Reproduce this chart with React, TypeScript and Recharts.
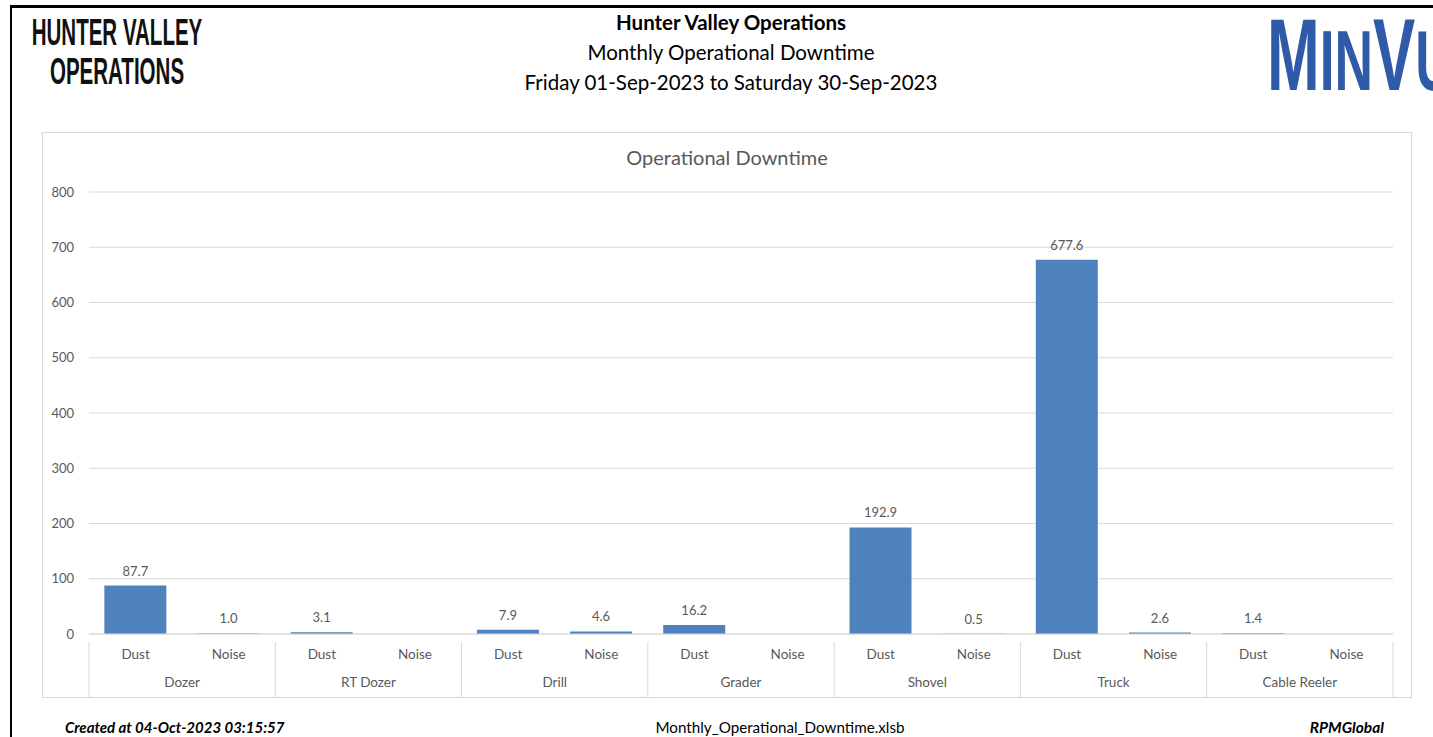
import React from 'react';
import { BarChart, Bar, XAxis, YAxis, CartesianGrid, LabelList } from 'recharts';

const groups = ['Dozer', 'RT Dozer', 'Drill', 'Grader', 'Shovel', 'Truck', 'Cable Reeler'];
const kinds = ['Dust', 'Noise'];
const dust = [87.7, 3.1, 7.9, 16.2, 192.9, 677.6, 1.4];
const noise = [1.0, null, 4.6, null, 0.5, 2.6, null];
const yTicks = [0, 100, 200, 300, 400, 500, 600, 700, 800];

const data = groups.flatMap((g, i) => [
  { group: g, kind: kinds[0], value: dust[i] },
  { group: g, kind: kinds[1], value: noise[i] },
]);

const CHART_W = 1370;
const CHART_H = 566;
const MARGIN = { top: 60, right: 19, bottom: 0, left: 0 };
const X_H = 64;
const Y_W = 47;
const PLOT_W = CHART_W - MARGIN.right - Y_W;
const SLOT = PLOT_W / data.length;
const GREY = '#595959';
const LINE = '#d9d9d9';

const font = 'Lato, "Open Sans", sans-serif';

const CategoryTick = (props: any) => {
  const { x, y, payload } = props;
  const i = payload.index;
  const row = data[i];
  const left = x - SLOT / 2;
  return (
    <g>
      <text x={x} y={y + 17} textAnchor="middle" fill={GREY} fontSize={13.5} fontFamily={font}>
        {row.kind}
      </text>
      {i % 2 === 0 && (
        <>
          <line x1={left} x2={left} y1={y} y2={y + 58} stroke={LINE} />
          <text x={x + SLOT / 2} y={y + 45} textAnchor="middle" fill={GREY} fontSize={13.5} fontFamily={font}>
            {row.group}
          </text>
        </>
      )}
      {i === data.length - 1 && (
        <line x1={x + SLOT / 2} x2={x + SLOT / 2} y1={y} y2={y + 58} stroke={LINE} />
      )}
    </g>
  );
};

export default function App() {
  return (
    <div
      style={{
        position: 'absolute',
        left: 0,
        top: 0,
        width: 1433,
        height: 737,
        background: '#fff',
        overflow: 'hidden',
        fontFamily: font,
      }}
    >
      {/* page frame */}
      <div style={{ position: 'absolute', left: 10, top: 5, width: 1440, height: 760, borderLeft: '2px solid #000', borderTop: '3px solid #000' }} />

      {/* left logo text */}
      <div
        style={{
          position: 'absolute',
          left: 20,
          top: 13,
          width: 194,
          textAlign: 'center',
          fontFamily: '"Liberation Sans", Arial, sans-serif',
          fontWeight: 700,
          fontSize: 36,
          lineHeight: '39px',
          color: '#111',
          transform: 'scaleX(0.57)',
          transformOrigin: '97px 0',
          whiteSpace: 'nowrap',
        }}
      >
        <div style={{ marginLeft: -80, marginRight: -80 }}>HUNTER VALLEY</div>
        <div style={{ marginLeft: -80, marginRight: -80 }}>OPERATIONS</div>
      </div>

      {/* titles */}
      <div style={{ position: 'absolute', left: 0, width: 1462, top: 7, textAlign: 'center', color: '#000', fontSize: 20.5, lineHeight: '30px' }}>
        <div style={{ fontWeight: 700 }}>Hunter Valley Operations</div>
        <div>Monthly Operational Downtime</div>
        <div>Friday 01-Sep-2023 to Saturday 30-Sep-2023</div>
      </div>

      {/* right logo */}
      <div
        style={{
          position: 'absolute',
          left: 1267,
          top: 5,
          color: '#2f5aa8',
          fontFamily: '"Liberation Sans", Arial, sans-serif',
          fontWeight: 700,
          whiteSpace: 'nowrap',
          transform: 'scaleX(0.62)',
          transformOrigin: '0 0',
          lineHeight: '100px',
        }}
      >
        <span style={{ fontSize: 102 }}>M</span>
        <span style={{ fontSize: 86 }}>IN</span>
        <span style={{ fontSize: 102 }}>V</span>
        <span style={{ fontSize: 86 }}>U</span>
      </div>

      {/* chart box */}
      <div style={{ position: 'absolute', left: 42, top: 132, width: CHART_W, height: CHART_H, border: `1px solid ${LINE}`, boxSizing: 'border-box' }}>
        <div style={{ position: 'absolute', left: 0, width: '100%', top: 12, textAlign: 'center', color: GREY, fontSize: 20 }}>
          Operational Downtime
        </div>
        <BarChart width={CHART_W} height={CHART_H} data={data} margin={MARGIN} barCategoryGap="16.5%" style={{ position: 'absolute', left: -1, top: -1 }}>
          <CartesianGrid vertical={false} stroke={LINE} />
          <YAxis
            domain={[0, 800]}
            ticks={yTicks}
            width={Y_W}
            axisLine={false}
            tickLine={false}
            tick={{ fill: GREY, fontSize: 13, fontFamily: font }}
            tickMargin={9}
            interval={0}
          />
          <XAxis
            dataKey="kind"
            height={X_H}
            interval={0}
            tickLine={false}
            axisLine={{ stroke: LINE }}
            tick={<CategoryTick />}
          />
          <Bar dataKey="value" fill="#4f81bd" isAnimationActive={false}>
            <LabelList
              dataKey="value"
              position="top"
              offset={10}
              fill={GREY}
              fontSize={13}
              fontFamily={font}
              formatter={(v: any) => (v == null ? '' : Number(v).toFixed(1))}
            />
          </Bar>
        </BarChart>
      </div>

      {/* footer */}
      <div style={{ position: 'absolute', left: 65, top: 718, fontSize: 15, fontWeight: 700, fontStyle: 'italic', color: '#000' }}>
        Created at 04-Oct-2023 03:15:57
      </div>
      <div style={{ position: 'absolute', left: 0, width: 1560, top: 718, textAlign: 'center', fontSize: 15.2, color: '#000' }}>
        Monthly_Operational_Downtime.xlsb
      </div>
      <div style={{ position: 'absolute', right: 49, top: 718, fontSize: 15.5, fontWeight: 700, fontStyle: 'italic', color: '#000' }}>
        RPMGlobal
      </div>
    </div>
  );
}
